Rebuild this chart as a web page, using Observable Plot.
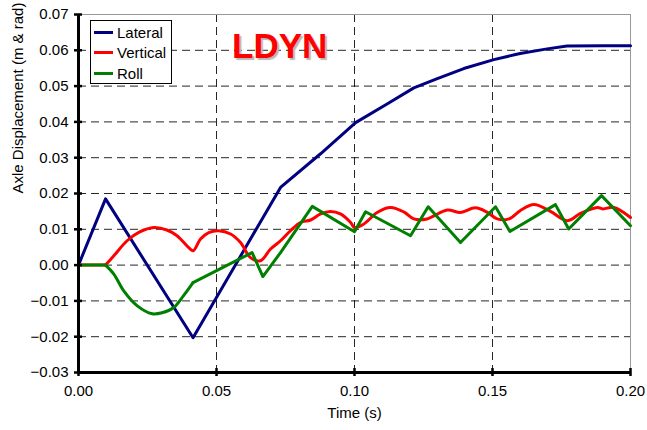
<!DOCTYPE html>
<html>
<head>
<meta charset="utf-8">
<script src="https://cdn.jsdelivr.net/npm/d3@7"></script>
<script src="https://cdn.jsdelivr.net/npm/@observablehq/plot@0.6"></script>
<style>
  body { margin: 0; background: #fff; font-family: "Liberation Sans", Arial, sans-serif; }
  #wrap { position: relative; width: 647px; height: 430px; }
  #legend { position: absolute; left: 90px; top: 20px; width: 80px; height: 62px; border: 1px solid #000; background: #fff; font-size: 15px; }
  #legend .row { position: absolute; left: 3px; height: 20px; display: flex; align-items: center; }
  #legend .sw { width: 19px; height: 3px; margin-right: 4px; }
  #title { position: absolute; left: 232px; top: 28px; font-size: 35px; line-height: 35px; font-weight: bold; color: #ff0000; text-shadow: 2px 2px 1px #b8b8b8; }
</style>
</head>
<body>
<div id="wrap"></div>
<script>
const seriesNames = ["Lateral", "Vertical", "Roll"];
const seriesColors = ["#000080", "#ff0000", "#008000"];

const lateralT = [0, 0.0098, 0.0415, 0.0732, 0.0877, 0.1004, 0.1118, 0.1215, 0.1300, 0.1396, 0.1505, 0.1600, 0.1698, 0.1770, 0.1900, 0.2000];
const lateralV = [0, 0.0185, -0.0203, 0.0217, 0.0311, 0.0398, 0.0450, 0.0495, 0.0521, 0.0549, 0.0574, 0.0591, 0.0604, 0.0612, 0.0613, 0.0613];

const verticalT = [0, 0.0098, 0.0128, 0.0176, 0.0220, 0.0273, 0.0320, 0.0357, 0.0393, 0.0415, 0.0442, 0.0472, 0.0508, 0.0551, 0.0587, 0.0623, 0.0659, 0.0696, 0.0732, 0.0768, 0.0804, 0.0841, 0.0877, 0.0913, 0.0949, 0.0986, 0.1000, 0.1034, 0.1082, 0.1130, 0.1180, 0.1215, 0.1263, 0.1336, 0.1384, 0.1438, 0.1480, 0.1517, 0.1560, 0.1600, 0.1650, 0.1710, 0.1770, 0.1820, 0.1880, 0.1900, 0.1940, 0.2000];
const verticalV = [0, 0, 0.0026, 0.0068, 0.0092, 0.0105, 0.0098, 0.0082, 0.0054, 0.0040, 0.0073, 0.0091, 0.0096, 0.0087, 0.0063, 0.0021, 0.0012, 0.0045, 0.0068, 0.0096, 0.0119, 0.0126, 0.0143, 0.0150, 0.0143, 0.0119, 0.0105, 0.0115, 0.0147, 0.0161, 0.0148, 0.0129, 0.0129, 0.0154, 0.0147, 0.0160, 0.0148, 0.0129, 0.0129, 0.0152, 0.0169, 0.0150, 0.0124, 0.0145, 0.0161, 0.0157, 0.0161, 0.0133];

const rollT = [0, 0.0098, 0.0128, 0.0164, 0.0213, 0.0267, 0.0303, 0.0344, 0.0380, 0.0415, 0.0629, 0.0668, 0.0732, 0.0847, 0.1000, 0.1040, 0.1203, 0.1267, 0.1384, 0.1511, 0.1563, 0.1728, 0.1776, 0.1895, 0.2000];
const rollV = [0, 0, -0.0025, -0.0072, -0.0114, -0.0136, -0.0133, -0.0119, -0.0086, -0.0049, 0.0035, -0.0032, 0.0035, 0.0164, 0.0093, 0.0149, 0.0082, 0.0163, 0.0063, 0.0163, 0.0094, 0.0169, 0.0101, 0.0194, 0.0110];

const xTicks = [0, 0.05, 0.10, 0.15, 0.20];
const yTicks = [-0.03, -0.02, -0.01, 0, 0.01, 0.02, 0.03, 0.04, 0.05, 0.06, 0.07];
const xGrid = [0.05, 0.10, 0.15];
const yGrid = [-0.02, -0.01, 0, 0.01, 0.02, 0.03, 0.04, 0.05, 0.06];

const toRows = (name, ts, vs) => ts.map((t, i) => ({series: name, t, v: vs[i]}));
const lateral = toRows("Lateral", lateralT, lateralV);
const vertical = toRows("Vertical", verticalT, verticalV);
const roll = toRows("Roll", rollT, rollV);

const fmt = d3.format(".2f");
const W = 3;

const chart = Plot.plot({
  width: 647,
  height: 430,
  marginLeft: 78,
  marginRight: 17,
  marginTop: 14,
  marginBottom: 58,
  style: {fontFamily: "'Liberation Sans', Arial, sans-serif", fontSize: "15px", color: "#000", background: "#fff"},
  x: {domain: [0, 0.2]},
  y: {domain: [-0.03, 0.07]},
  marks: [
    Plot.gridY(yGrid, {stroke: "#000", strokeOpacity: 0.85, strokeDasharray: "8,5"}),
    Plot.gridX(xGrid, {stroke: "#000", strokeOpacity: 0.85, strokeDasharray: "8,5"}),
    Plot.frame({stroke: "#999", strokeWidth: 1}),
    Plot.line(lateral, {x: "t", y: "v", stroke: seriesColors[0], strokeWidth: W}),
    Plot.line(vertical.filter(d => d.t <= 0.0098), {x: "t", y: "v", stroke: seriesColors[1], strokeWidth: W}),
    Plot.line(vertical.filter(d => d.t >= 0.0098), {x: "t", y: "v", stroke: seriesColors[1], strokeWidth: W, curve: "catmull-rom"}),
    Plot.line(roll.filter(d => d.t <= 0.0098), {x: "t", y: "v", stroke: seriesColors[2], strokeWidth: W}),
    Plot.line(roll.filter(d => d.t >= 0.0098 && d.t <= 0.0415), {x: "t", y: "v", stroke: seriesColors[2], strokeWidth: W, curve: "catmull-rom"}),
    Plot.line(roll.filter(d => d.t >= 0.0415), {x: "t", y: "v", stroke: seriesColors[2], strokeWidth: W}),
    Plot.ruleX([0], {stroke: "#000", strokeWidth: 3}),
    Plot.ruleY([-0.03], {stroke: "#000", strokeWidth: 3}),
    Plot.axisY(yTicks, {tickSize: 8, dx: 4, tickFormat: () => "", label: null, strokeWidth: 2.5}),
    Plot.axisY(yTicks, {tickSize: 0, tickPadding: 10, tickFormat: fmt, label: null, fontSize: 15}),
    Plot.axisX(xTicks, {tickSize: 8, dy: -4, tickFormat: () => "", label: null, strokeWidth: 2.5}),
    Plot.axisX(xTicks, {tickSize: 0, tickPadding: 13, tickFormat: fmt, label: null, fontSize: 15}),
    Plot.text(["Axle Displacement (m & rad)"], {frameAnchor: "left", rotate: -90, dx: -60, fontSize: 15, lineAnchor: "middle", fill: "#000"}),
    Plot.text(["Time (s)"], {frameAnchor: "bottom", dy: 41, fontSize: 15, lineAnchor: "middle", fill: "#000"})
  ]
});

const wrap = document.getElementById("wrap");
wrap.appendChild(chart);

const legend = document.createElement("div");
legend.id = "legend";
seriesNames.forEach((name, i) => {
  const row = document.createElement("div");
  row.className = "row";
  row.style.top = (1 + i * 20.5) + "px";
  const sw = document.createElement("span");
  sw.className = "sw";
  sw.style.background = seriesColors[i];
  const lab = document.createElement("span");
  lab.textContent = name;
  row.appendChild(sw);
  row.appendChild(lab);
  legend.appendChild(row);
});
wrap.appendChild(legend);

const title = document.createElement("div");
title.id = "title";
title.textContent = "LDYN";
wrap.appendChild(title);
</script>
</body>
</html>
